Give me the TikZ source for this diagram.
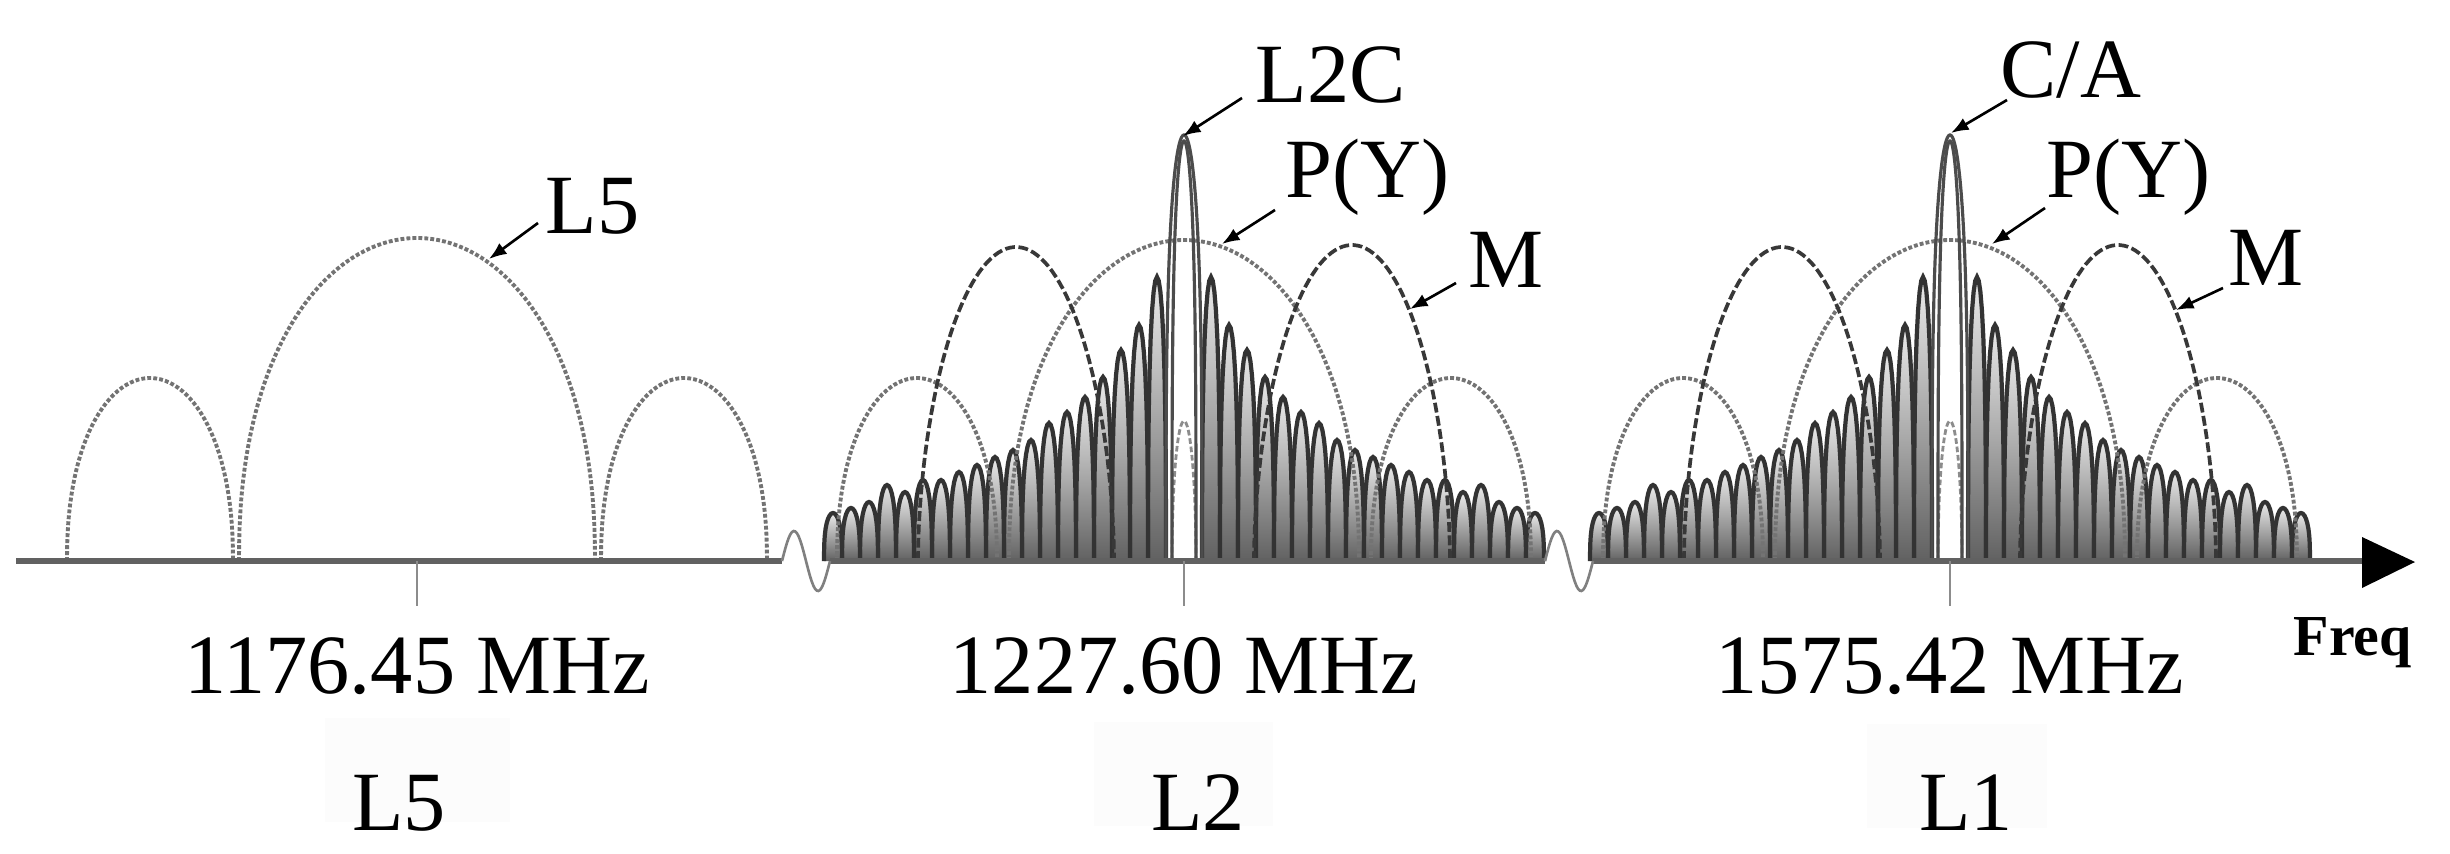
\documentclass[tikz,border=0pt]{standalone}
\usepackage{fontspec}
\setmainfont{Liberation Serif}
\usetikzlibrary{arrows.meta}
% generic lobe: style, centre x, half width, height, exponent, samples
\newcommand\speclobe[6]{%
  \draw[#1] ({#2-#3},561) -- plot[domain=0.5:179.5, samples=#6, variable=\t]
    ({#2-#3*cos(\t)},{561-#4*(sin(\t))^#5}) -- ({#2+#3},561);
}
% one narrow lobe of the line comb: centre x, height
\newcommand\comblobe[2]{%
  \shade[combshade] ({#1-9},561) -- plot[domain=1:179, samples=17, variable=\t]
    ({#1-9*cos(\t)},{561-#2*(sin(\t))^0.7}) -- ({#1+9},561) -- cycle;
  \draw[combline] ({#1-9},561) -- plot[domain=1:179, samples=17, variable=\t]
    ({#1-9*cos(\t)},{561-#2*(sin(\t))^0.7}) -- ({#1+9},561);
}
\newcommand\combset[1]{%
  \foreach \h [count=\k] in {284,236,211,184,164,149,138,121,111,104,96,89,81,81,69,76,59,53,48}{%
    \comblobe{#1+18*\k+9}{\h}
    \comblobe{#1-18*\k-9}{\h}
  }%
}
\tikzset{
  dotlobe/.style={draw=black!55, line width=1.1pt, dash pattern=on 1.1pt off 0.6pt},
  mlobe/.style={draw=black!78, line width=1.05pt, dash pattern=on 2.8pt off 1pt},
  minner/.style={draw=black!45, line width=0.8pt, dash pattern=on 1.6pt off 0.8pt},
  combline/.style={draw=black!80, line width=1.2pt},
  combshade/.style={top color=black!8, bottom color=black!62},
  centrelobe/.style={draw=black!70, line width=0.9pt},
  axisline/.style={draw=black!62, line width=1.7pt},
  tickline/.style={draw=black!45, line width=0.6pt},
  brkline/.style={draw=black!50, line width=0.75pt},
  mylab/.style={font=\fontsize{24}{28}\selectfont, inner sep=0pt, anchor=base west},
  freqlab/.style={font=\fontsize{24}{28}\selectfont, inner sep=0pt, anchor=base},
  bandbox/.style={fill=black!1, draw=none},
  myptr/.style={draw=black, line width=0.75pt, -{Latex[length=5pt,width=3.8pt]}},
}
\begin{document}
\begin{tikzpicture}[x=0.1mm, y=-0.1mm]
\useasboundingbox (0,0) rectangle (2450,853);
\fill[white] (0,0) rectangle (2450,853);

% faint boxes behind band names
\path[bandbox] (325,718) rectangle (510,822);
\path[bandbox] (1094,722) rectangle (1273,826);
\path[bandbox] (1867,724) rectangle (2047,828);

% line combs
\combset{1184}
\combset{1950}

% L5 signal
\speclobe{dotlobe}{417}{178}{323}{0.9}{90}
\speclobe{dotlobe}{150}{83}{183}{0.9}{60}
\speclobe{dotlobe}{684}{83}{183}{0.9}{60}

% P(Y) on L2 and L1
\foreach \c in {1184,1950}{
  \speclobe{dotlobe}{\c}{175}{321}{0.9}{90}
  \speclobe{dotlobe}{\c-267}{80}{183}{0.9}{60}
  \speclobe{dotlobe}{\c+267}{80}{183}{0.9}{60}
}

% M code on L2 and L1
\foreach \c in {1184,1950}{
  \speclobe{mlobe}{\c-168}{98}{314}{1.1}{80}
  \speclobe{mlobe}{\c+168}{98}{316}{1.1}{80}
  \speclobe{minner}{\c}{12}{140}{1}{30}
}

% L2C and C/A narrow lobes
\foreach \c in {1184,1950}{
  \speclobe{centrelobe}{\c}{18}{426}{0.6}{70}
  \speclobe{centrelobe}{\c}{12}{420}{0.6}{70}
}

% frequency axis with breaks
\coordinate (ax0) at (16,561);
\coordinate (br1a) at (782,561);
\coordinate (br1b) at (830,561);
\coordinate (br2a) at (1545,561);
\coordinate (br2b) at (1593,561);
\coordinate (axend) at (2364,561);
\draw[axisline] (ax0) -- (br1a);
\draw[axisline] (br1b) -- (br2a);
\draw[axisline] (br2b) -- (axend);
\draw[brkline] plot[domain=0:1, samples=30, variable=\t] ({782+48*\t},{561-30*sin(360*\t)});
\draw[brkline] plot[domain=0:1, samples=30, variable=\t] ({1545+48*\t},{561-30*sin(360*\t)});
\fill[black] (2362,537) -- (2415,562) -- (2362,588) -- cycle;

% centre ticks
\foreach \c/\n in {417/t5,1184/t2,1950/t1}{
  \coordinate (\n a) at (\c,561);
  \coordinate (\n b) at (\c,606);
  \draw[tickline] (\n a) -- (\n b);
}

% frequency labels
\node[freqlab] (f5) at (417,693) {1176.45 MHz};
\node[freqlab] (f2) at (1184,693) {1227.60 MHz};
\node[freqlab] (f1) at (1950,693) {1575.42 MHz};
\node[font=\fontsize{16.5}{18}\selectfont\bfseries, inner sep=0pt, anchor=base west] (freq) at (2293,655) {Freq};

% band names
\node[freqlab] (b5) at (399,830) {L5};
\node[freqlab] (b2) at (1198,830) {L2};
\node[freqlab] (b1) at (1966,830) {L1};

% signal labels
\node[mylab] (tL5) at (545,233) {L5};
\node[mylab] (tL2C) at (1255,102) {L2C};
\node[mylab] (tPY2) at (1285,197) {P(Y)};
\node[mylab] (tM2) at (1468,287) {M};
\node[mylab] (tCA) at (2000,97) {C/A};
\node[mylab] (tPY1) at (2046,197) {P(Y)};
\node[mylab] (tM1) at (2228,285) {M};

% pointer ends
\coordinate (sL5) at (538,223);   \coordinate (eL5) at (489,259);
\coordinate (sL2C) at (1242,98);  \coordinate (eL2C) at (1183,136);
\coordinate (sPY2) at (1275,210); \coordinate (ePY2) at (1222,244);
\coordinate (sM2) at (1456,283);  \coordinate (eM2) at (1410,309);
\coordinate (sCA) at (2007,100);  \coordinate (eCA) at (1951,133);
\coordinate (sPY1) at (2045,208); \coordinate (ePY1) at (1992,244);
\coordinate (sM1) at (2223,288);  \coordinate (eM1) at (2176,310);
\foreach \a in {L5,L2C,PY2,M2,CA,PY1,M1}{
  \draw[myptr] (s\a) -- (e\a);
}
\end{tikzpicture}
\end{document}
